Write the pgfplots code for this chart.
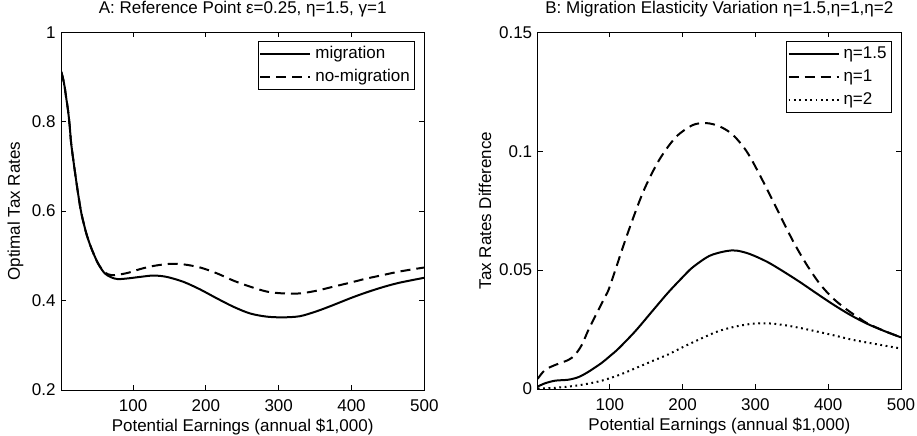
\documentclass[border=0pt]{standalone}
\usepackage{pgfplots}
\pgfplotsset{compat=1.18}
\usepackage{fontspec}
\setmainfont{Liberation Sans}

\newcommand\chartfont{\fontsize{17bp}{20bp}\selectfont}

\pgfplotsset{
  panel/.style={
    scale only axis,
    width=363.3bp,
    xmin=1, xmax=500,
    xtick={100,200,300,400,500},
    tick align=inside,
    major tick length=5bp,
    axis line style={line width=0.8bp},
    every tick/.style={line width=0.8bp, black},
    tick label style={font=\chartfont},
    label style={font=\chartfont},
    title style={font=\chartfont, at={(axis description cs:0.5,1.037)}, anchor=base},
    /pgf/number format/assume math mode=true,
    /pgf/number format/fixed,
    /pgf/number format/precision=2,
    xticklabel style={anchor=base, yshift=-22bp},
    yticklabel style={xshift=-2bp},
    xlabel style={at={(axis description cs:0.5,-0.1166)}, anchor=base},
    legend style={at={(axis description cs:0.975,0.9757)}, anchor=north east,
      draw=black, line width=0.8bp, inner sep=1bp, row sep=0bp, font=\chartfont,
      nodes={text height=12bp, text depth=3bp, inner sep=4bp}},
    legend cell align=left,
    legend image code/.code={\draw[#1] (0bp,0bp) -- (50bp,0bp);},
  },
  crv/.style={line width=2bp, black, smooth, tension=0.5, mark=none},
  mdash/.style={crv, dash pattern=on 10bp off 6bp},
  mdot/.style={crv, dash pattern=on 1.8bp off 3.6bp},
}

\begin{document}
\begin{tikzpicture}[x=1bp,y=1bp]
\path[use as bounding box] (0,0) rectangle (917,436);

\begin{axis}[panel,
  at={(61bp,46bp)}, anchor=south west,
  height=357.7bp,
  ymin=0.2, ymax=1,
  ytick={0.2,0.4,0.6,0.8,1},
  title={A: Reference Point ε=0.25, η=1.5, γ=1},
  xlabel={Potential Earnings (annual \$1,000)},
  ylabel={Optimal Tax Rates},
  ylabel style={at={(axis description cs:-0.1253,0.5)}, anchor=center},
]
\addplot[crv] coordinates {
(1,0.905) (2,0.908) (4,0.895) (6,0.878) (8,0.855) (10.6,0.826) (13,0.79)
(15,0.751) (19.8,0.692) (24.4,0.640) (29,0.595) (35.8,0.550) (42.7,0.517)
(51.9,0.483) (61,0.461) (70,0.452) (79,0.448) (93,0.4496) (110,0.453)
(128,0.456) (146,0.453) (169,0.442) (192,0.425) (215,0.405) (238,0.386)
(261,0.371) (284,0.364) (306,0.3625) (329,0.365) (352,0.376) (375,0.390)
(398,0.405) (420,0.418) (443,0.430) (466,0.440) (500,0.451)
};
\addplot[mdash] coordinates {
(1,0.905) (2,0.908) (4,0.895) (6,0.878) (8,0.855) (10.6,0.826) (13,0.79)
(15,0.751) (19.8,0.692) (24.4,0.640) (29,0.595) (35.8,0.550) (42.7,0.517)
(51.9,0.483) (61,0.463) (70,0.457) (80,0.458) (93,0.462) (111,0.471)
(130,0.478) (150,0.482) (169,0.481) (192,0.474) (215,0.461) (238,0.4445)
(261,0.431) (284,0.420) (306,0.416) (329,0.416) (352,0.422) (375,0.431)
(398,0.44) (420,0.449) (443,0.457) (466,0.465) (500,0.474)
};
\legend{migration, no-migration}
\end{axis}

\begin{axis}[panel,
  at={(537.7bp,47bp)}, anchor=south west,
  height=356.7bp,
  ymin=0, ymax=0.15,
  ytick={0,0.05,0.1,0.15},
  title={B: Migration Elasticity Variation η=1.5,η=1,η=2},
  xlabel={Potential Earnings (annual \$1,000)},
  ylabel={Tax Rates Difference},
  ylabel style={at={(axis description cs:-0.145,0.5)}, anchor=center},
]
\addplot[crv] coordinates {
(1,0.001) (11,0.0024) (25,0.0035) (43,0.0039) (57,0.005) (71,0.0073)
(89,0.011) (100,0.0138) (112,0.0170) (135,0.0243) (158,0.0326) (180,0.0405)
(200,0.0470) (214,0.0512) (237,0.0560) (260,0.0580) (274,0.0582) (292,0.0568)
(316,0.0535) (338,0.0495) (361,0.0450) (384,0.0402) (407,0.0355) (430,0.0312)
(453,0.0275) (476,0.0245) (500,0.0217)
};
\addplot[mdash] coordinates {
(1,0.0043) (11,0.008) (25,0.0101) (43,0.0122) (52,0.0143) (61.5,0.0185)
(70.6,0.0248) (82,0.0318) (93.5,0.0388) (100,0.0431) (123,0.0641) (146,0.083)
(168,0.0964) (191,0.106) (214,0.111) (233,0.1118) (251,0.1104) (269,0.1069)
(288,0.0999) (306,0.090) (329,0.0760) (352,0.0620) (371,0.0520) (389,0.0440)
(407,0.0380) (426,0.0333) (444,0.0295) (455,0.0274) (478,0.0243) (500,0.0217)
};
\addplot[mdot] coordinates {
(1,0.0002) (20,0.0004) (43,0.001) (66,0.002) (89,0.0035) (112,0.0058)
(135,0.0087) (158,0.0117) (180,0.0145) (203,0.0180) (226,0.0213) (249,0.0243)
(272,0.0262) (295,0.0274) (318,0.0276) (341,0.0268) (364,0.0255) (387,0.0240)
(410,0.0224) (433,0.0207) (456,0.0194) (478,0.0182) (500,0.0170)
};
\legend{η=1.5, η=1, η=2}
\end{axis}
\end{tikzpicture}
\end{document}
